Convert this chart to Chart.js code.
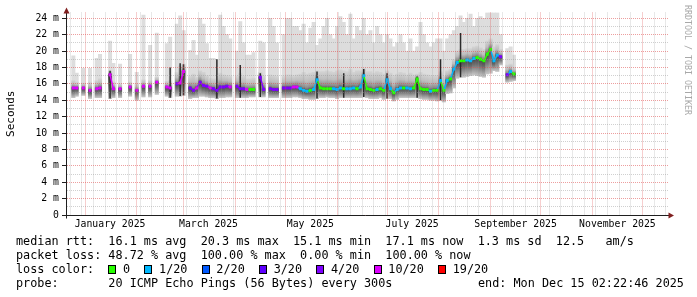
<!DOCTYPE html>
<html>
<head>
<meta charset="utf-8">
<script src="https://cdn.jsdelivr.net/npm/chart.js@4.4.1/dist/chart.umd.min.js"></script>
<style>
  html, body { margin: 0; padding: 0; background: #fff; }
  #wrap { position: relative; width: 697px; height: 297px; overflow: hidden; }
  #c { position: absolute; left: 0; top: 0; }
  .leg { position: absolute; left: 16px; top: 234px; font: 11.8px "DejaVu Sans Mono", monospace; white-space: pre; color: #000; line-height: 14px; }
  .leg .box { display: inline-block; width: 8px; height: 9px; margin-right: 6.7px; border: 1px solid #000; box-sizing: border-box; vertical-align: -1px; }
  #end { position: absolute; left: 478px; top: 276px; font: 11.8px "DejaVu Sans Mono", monospace; white-space: pre; line-height: 14px; }
  #wm { position: absolute; left: 683px; top: 5px; writing-mode: vertical-rl; font: 8.3px "DejaVu Sans Mono", monospace; line-height: 9px; color: #a8a8a8; white-space: pre; }
</style>
</head>
<body>
<div id="wrap">
  <canvas id="c" width="697" height="297"></canvas>
  <div class="leg" id="legend"></div>
  <div id="end"></div>
  <div id="wm">RRDTOOL / TOBI OETIKER</div>
</div>
<script>
// days counted from 1 January 2025, one bin every 2 days
const days = [-9,-7,-5,-3,-1,1,3,5,7,9,
  11,13,15,17,19,21,23,25,27,29,
  31,33,35,37,39,41,43,45,47,49,
  51,53,55,57,59,61,63,65,67,69,
  71,73,75,77,79,81,83,85,87,89,
  91,93,95,97,99,101,103,105,107,109,
  111,113,115,117,119,121,123,125,127,129,
  131,133,135,137,139,141,143,145,147,149,
  151,153,155,157,159,161,163,165,167,169,
  171,173,175,177,179,181,183,185,187,189,
  191,193,195,197,199,201,203,205,207,209,
  211,213,215,217,219,221,223,225,227,229,
  231,233,235,237,239,241,243,245,247,249,
  251,253,255,257];

// smoke: top of the light band (ms)
const smokeTop = [null,19.4,17.3,null,17.9,null,17.9,null,19.1,19.6,
  null,null,21.2,18.5,null,18.4,null,null,19.6,null,
  17.4,null,24.4,null,20.7,null,22.2,null,null,20.9,
  21.7,null,23.3,24.3,22.5,null,20.1,21.3,19.5,24.0,
  23.3,20.9,19.1,19.1,19.0,24.4,23.0,22.0,21.5,null,
  20.0,23.6,21.0,19.5,19.5,19.8,null,21.2,21.0,null,
  24.0,23.0,21.0,null,22.0,24.0,24.0,23.0,23.0,22.5,
  23.3,21.0,22.8,23.5,20.7,21.5,23.0,24.0,22.0,21.5,
  23.0,24.2,23.5,22.0,24.5,21.5,23.0,22.5,24.0,22.0,
  22.5,21.0,23.0,22.0,21.0,22.0,21.5,20.5,21.0,22.0,
  21.0,20.0,21.5,20.0,20.5,23.5,22.0,21.0,20.5,21.0,
  21.5,21.5,20.0,21.5,22.0,22.5,23.0,24.3,23.5,24.0,
  24.5,23.0,24.0,24.2,24.0,24.7,24.7,24.7,24.7,22.0,
  null,20.3,20.5,19.5];

// smoke: top of the darker core band (ms)
const smokeUpper = [null,16.4,16.2,null,16.1,null,16.2,null,16.4,16.6,
  null,null,17.6,16.2,null,16.0,null,null,16.2,null,
  16.0,null,16.5,null,16.4,null,16.8,null,null,16.3,
  16.4,null,17.4,18.2,18.4,null,16.9,17.2,16.8,17.6,
  17.4,17.0,16.7,16.6,16.6,17.3,17.1,17.0,16.9,null,
  16.9,17.3,16.9,16.6,16.6,16.7,null,17.4,16.9,null,
  17.1,17.0,16.9,null,16.9,17.1,17.1,17.0,17.1,17.2,
  17.4,17.2,17.3,17.4,17.6,17.5,17.5,17.6,17.5,17.4,
  17.6,17.7,17.6,17.5,17.8,17.4,17.6,17.6,17.9,17.5,
  17.5,17.3,17.5,17.4,17.2,17.6,17.3,17.0,17.2,17.4,
  17.3,17.1,17.3,17.1,17.2,17.4,17.2,17.1,17.0,17.0,
  17.0,17.5,16.9,17.6,17.8,19.0,20.0,20.2,20.2,20.3,
  20.3,20.5,20.6,20.4,20.2,21.2,21.5,20.5,20.8,20.2,
  null,18.3,18.4,18.0];

// smoke: bottom (ms)
const smokeLow = [null,14.3,14.5,null,14.6,null,14.2,null,14.3,14.3,
  null,null,14.2,14.3,null,14.3,null,null,14.5,null,
  14.0,null,14.4,null,14.4,null,14.7,null,null,14.5,
  14.3,null,14.5,14.5,14.6,null,14.2,14.3,14.3,14.5,
  14.5,14.4,14.3,14.3,14.2,14.3,14.3,14.4,14.4,null,
  14.3,14.3,14.3,14.3,14.4,14.4,null,14.4,14.4,null,
  14.3,14.3,14.3,null,14.3,14.3,14.3,14.4,14.4,14.3,
  14.2,14.2,14.1,14.1,14.2,14.3,14.3,14.4,14.3,14.3,
  14.2,14.3,14.3,14.3,14.3,14.3,14.3,14.3,14.4,14.3,
  14.2,14.2,14.2,14.3,14.1,14.2,14.2,13.9,14.1,14.3,
  14.3,14.3,14.3,14.3,14.3,14.2,14.1,14.1,14.0,14.0,
  13.9,14.0,13.8,14.8,14.9,15.5,16.7,16.8,16.8,16.9,
  17.0,17.1,17.0,16.9,16.8,17.2,17.3,17.6,17.5,18.3,
  null,16.2,16.3,16.4];

// median rtt (ms)
const median = [null,15.5,15.5,null,15.5,null,15.2,null,15.4,15.5,
  null,null,17.1,15.4,null,15.4,null,null,15.6,null,
  15.2,null,15.7,null,15.7,null,16.2,null,null,15.6,
  15.5,null,16.0,16.1,17.5,null,15.5,15.2,15.5,16.2,
  15.8,15.7,15.5,15.4,15.2,15.6,15.6,15.7,15.6,null,
  15.7,15.4,15.4,15.3,15.3,15.3,null,16.8,15.3,null,
  15.4,15.3,15.3,null,15.5,15.5,15.5,15.6,15.6,15.4,
  15.2,15.1,15.2,15.3,16.5,15.5,15.4,15.4,15.4,15.4,
  15.3,15.5,15.4,15.4,15.4,15.5,15.4,15.6,17.0,15.4,
  15.3,15.2,15.3,15.4,15.2,16.5,15.4,14.9,15.3,15.5,
  15.5,15.5,15.4,15.5,16.6,15.4,15.3,15.3,15.1,15.2,
  15.2,16.4,15.2,16.4,16.6,17.8,18.6,18.8,18.8,18.9,
  18.8,19.1,19.2,19.0,18.8,19.6,20.2,18.8,19.5,19.3,
  null,17.1,17.5,17.2];

// loss class per bin, index into lossColors
const loss = [null,5,5,null,5,null,5,null,5,5,
  null,null,5,5,null,5,null,null,5,null,
  5,null,5,null,5,null,5,null,null,5,
  5,null,4,5,5,null,4,4,5,4,
  4,4,5,4,4,4,4,4,5,null,
  4,4,4,5,0,0,null,4,4,null,
  4,4,4,null,4,4,4,5,5,1,
  1,1,0,1,1,0,0,0,0,1,
  1,1,0,1,1,1,0,1,1,0,
  0,0,1,0,0,1,1,0,1,1,
  0,1,1,0,0,0,0,0,1,0,
  0,1,0,1,0,1,1,0,0,1,
  1,1,0,0,0,0,0,1,1,4,
  null,4,1,0];

// short dark streaks inside the smoke
const spikeDays = [15, 51, 57, 59, 79, 93, 105, 139, 155, 167, 181, 199, 213, 225];
const spikeTop  = [17.6, 18.0, 18.5, 18.4, 19.0, 18.3, 17.3, 17.5, 17.3, 17.8, 17.3, 16.9, 19.0, 22.2];
const spikeBase = [14.2, 14.3, 14.5, 14.6, 14.2, 14.3, 14.4, 14.2, 14.3, 14.4, 14.2, 14.3, 14.0, 16.8];

const lossColors = ['#26ff00', '#00b8ff', '#0059ff', '#5e00ff', '#7e00ff', '#dd00ff', '#ff0000'];
const lossLabels = ['0', '1/20', '2/20', '3/20', '4/20', '10/20', '19/20'];

const monthStarts = [0, 31, 59, 90, 120, 151, 181, 212, 243, 273, 304, 334];
const labelDays = [15, 74, 135, 196, 258, 319];
const labelText = ['January 2025', 'March 2025', 'May 2025', 'July 2025', 'September 2025', 'November 2025'];
const yTicks = [0,1,2,3,4,5,6,7,8,9,10,11,12,13,14,15,16,17,18,19,20,21,22,23,24];
const yTickLabels = ['0','','2 m','','4 m','','6 m','','8 m','','10 m','','12 m','','14 m','','16 m','','18 m','','20 m','','22 m','','24 m'];

const legendRtt = 'median rtt:  16.1 ms avg  20.3 ms max  15.1 ms min  17.1 ms now  1.3 ms sd  12.5   am/s';
const legendLoss = 'packet loss: 48.72 % avg  100.00 % max  0.00 % min  100.00 % now';
const legendProbe = 'probe:       20 ICMP Echo Pings (56 Bytes) every 300s';
const legendEnd = 'end: Mon Dec 15 02:22:46 2025';

const xMin = -10.8, xMax = 349.3;
const majorGrid = 'rgba(222,79,79,0.55)';
const minorGrid = 'rgba(150,150,150,0.45)';
const mono = 'DejaVu Sans Mono';

// weekly grid (Mondays) plus month starts
const gridDays = monthStarts.slice();
for (let d = -9; d <= xMax; d += 7) {
  if (!monthStarts.includes(d)) gridDays.push(d);
}
gridDays.sort((a, b) => a - b);

// legend under the graph
document.getElementById('legend').innerHTML =
  legendRtt + '\n' + legendLoss + '\n' + 'loss color:  ' +
  lossLabels.map((l, i) => '<i class="box" style="background:' + lossColors[i] + '"></i>' + l).join('  ') +
  '\n' + legendProbe;
document.getElementById('end').textContent = legendEnd;

const lossColor = i => (loss[i] == null ? 'rgba(0,0,0,0)' : lossColors[loss[i]]);

const rows = days.map((d, i) => i).filter(i => smokeTop[i] != null);
const lightData = rows.map(i => ({x: days[i], y: [smokeLow[i], smokeTop[i]], i: i}));
const coreData = rows.map(i => ({x: days[i], y: [smokeLow[i], smokeUpper[i]], i: i}));
const spikeData = spikeDays.map((d, k) => ({x: d, y: [spikeBase[k], spikeTop[k]]}));
const medianData = days.map((d, i) => ({x: d, y: median[i]}));

// shading of the core band: darkest right at the median
function coreFill(c) {
  const chart = c.chart, ys = chart.scales.y, r = c.raw;
  if (!ys || !r) return '#aaaaaa';
  const i = r.i;
  const y0 = ys.getPixelForValue(smokeUpper[i]);
  const y1 = ys.getPixelForValue(smokeLow[i]);
  const ym = ys.getPixelForValue(median[i]);
  if (!(y1 > y0)) return '#aaaaaa';
  let t = (ym - y0) / (y1 - y0);
  t = Math.min(0.95, Math.max(0.05, t));
  const g = chart.ctx.createLinearGradient(0, y0, 0, y1);
  g.addColorStop(0, '#d3d3d3');
  g.addColorStop(t * 0.45, '#bdbdbd');
  g.addColorStop(t * 0.8, '#8c8c8c');
  g.addColorStop(t, '#474747');
  g.addColorStop(t + (1 - t) * 0.4, '#707070');
  g.addColorStop(1, '#c6c6c6');
  return g;
}

// axis lines and the little red arrows
const axisArrows = {
  id: 'axisArrows',
  afterDraw(chart) {
    const {ctx, chartArea: a} = chart;
    const xl = a.left - 0.5, yb = a.bottom + 0.5;
    ctx.save();
    ctx.strokeStyle = '#1f1f1f';
    ctx.lineWidth = 1;
    ctx.beginPath();
    ctx.moveTo(xl, yb + 3); ctx.lineTo(xl, a.top);
    ctx.moveTo(a.left - 5, yb); ctx.lineTo(a.right + 1, yb);
    ctx.stroke();
    ctx.fillStyle = '#801f1f';
    ctx.beginPath();
    ctx.moveTo(xl - 3, a.top + 1); ctx.lineTo(xl + 3, a.top + 1); ctx.lineTo(xl, a.top - 5);
    ctx.closePath(); ctx.fill();
    ctx.beginPath();
    ctx.moveTo(a.right + 0.5, yb - 3); ctx.lineTo(a.right + 0.5, yb + 3); ctx.lineTo(a.right + 6, yb);
    ctx.closePath(); ctx.fill();
    ctx.restore();
  }
};

const barBase = {type: 'bar', xAxisID: 'x', yAxisID: 'y', grouped: false,
  barPercentage: 1, categoryPercentage: 1, borderWidth: 0, borderSkipped: false};

new Chart(document.getElementById('c'), {
  type: 'bar',
  data: {
    datasets: [
      Object.assign({}, barBase, {label: 'smoke', data: lightData, backgroundColor: '#dddddd', order: 3}),
      Object.assign({}, barBase, {label: 'core', data: coreData, backgroundColor: coreFill, order: 2}),
      Object.assign({}, barBase, {label: 'spike', data: spikeData, backgroundColor: '#2a2a2a', barPercentage: 0.45, order: 1}),
      {
        type: 'line', label: 'median', data: medianData, xAxisID: 'x', yAxisID: 'y',
        borderWidth: 1.5, borderColor: '#000',
        segment: { borderColor: s => lossColor(s.p1DataIndex) },
        pointStyle: 'rect', pointRadius: 2.1, pointHoverRadius: 2.1, pointBorderWidth: 0,
        pointBackgroundColor: c => lossColor(c.dataIndex),
        spanGaps: false, order: 0
      }
    ]
  },
  options: {
    responsive: false,
    animation: false,
    devicePixelRatio: 1,
    events: [],
    layout: { padding: { left: 0, right: 29, top: 12.5, bottom: 0 } },
    plugins: { legend: { display: false }, tooltip: { enabled: false } },
    scales: {
      x: { type: 'linear', display: false, min: xMin, max: xMax, offset: false },
      xg: {
        type: 'linear', position: 'bottom', min: xMin, max: xMax, offset: false,
        afterBuildTicks: s => { s.ticks = gridDays.map(v => ({value: v})); },
        afterFit: s => { s.height = 0; },
        ticks: { display: false },
        grid: { z: 1, offset: false, drawTicks: false, lineWidth: 1,
          color: c => (monthStarts.includes(c.tick.value) ? majorGrid : minorGrid) },
        border: { display: false, dash: [1, 1] }
      },
      xl: {
        type: 'linear', position: 'bottom', min: xMin, max: xMax, offset: false,
        afterBuildTicks: s => { s.ticks = labelDays.map(v => ({value: v})); },
        afterFit: s => { s.height = 82; },
        ticks: { autoSkip: false, maxRotation: 0, padding: 4, color: '#000',
          font: { family: mono, size: 9.8 }, callback: (v, i) => labelText[i] },
        grid: { display: false, drawTicks: false },
        border: { display: false }
      },
      y: {
        min: 0, max: 24.7,
        afterBuildTicks: s => { s.ticks = yTicks.map(v => ({value: v})); },
        afterFit: s => { s.width = 67; },
        ticks: { autoSkip: false, padding: 3, color: '#000',
          font: { family: mono, size: 9.8 }, callback: (v, i) => yTickLabels[i] },
        grid: { z: 1, lineWidth: 1, tickLength: 5,
          color: c => (c.tick.value % 2 === 0 ? majorGrid : minorGrid),
          tickColor: c => (c.tick.value % 2 === 0 ? '#1f1f1f' : 'rgba(0,0,0,0)') },
        border: { display: false, dash: [1, 1] },
        title: { display: true, text: 'Seconds', color: '#000',
          font: { family: mono, size: 11 }, padding: { top: 4.5, bottom: 0 } }
      }
    }
  },
  plugins: [axisArrows]
});
</script>
</body>
</html>
